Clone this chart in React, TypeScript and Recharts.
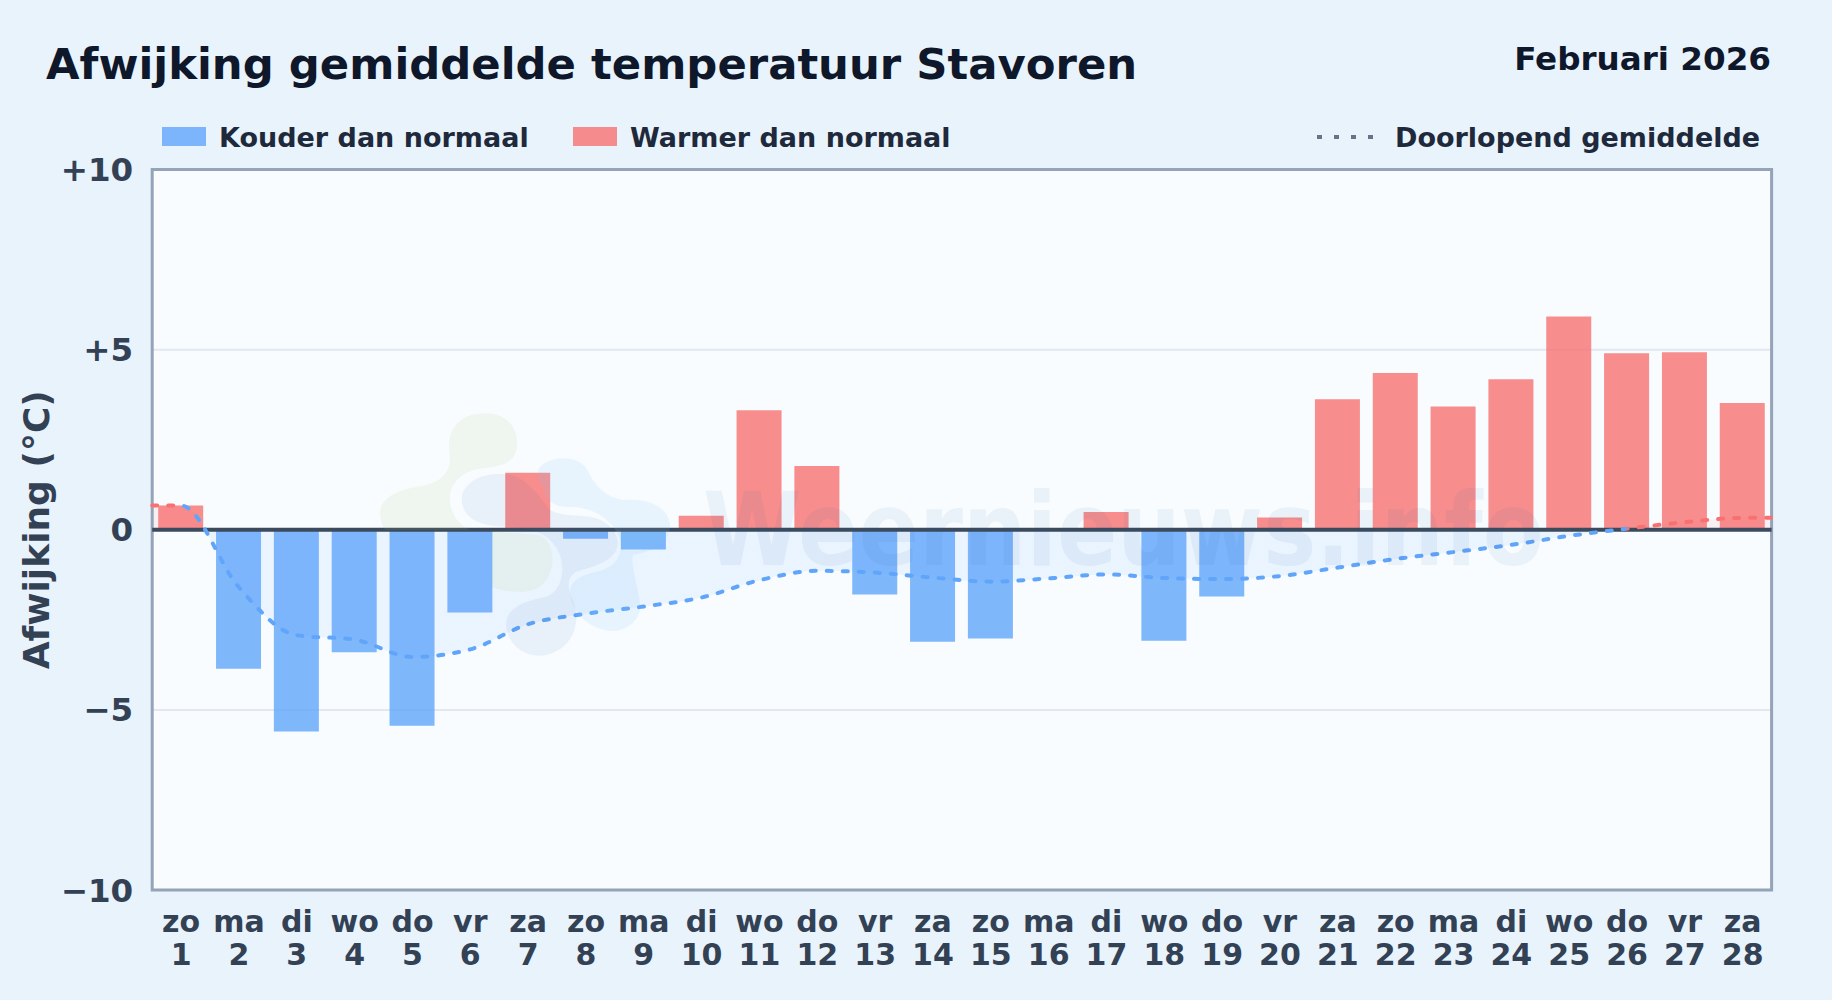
import { Area, Bar, CartesianGrid, Cell, ComposedChart, Line, ReferenceArea, ReferenceLine, XAxis, YAxis } from "recharts";

const days = [1, 2, 3, 4, 5, 6, 7, 8, 9, 10, 11, 12, 13, 14, 15, 16, 17, 18, 19, 20, 21, 22, 23, 24, 25, 26, 27, 28];
const weekdays = ["zo", "ma", "di", "wo", "do", "vr", "za", "zo", "ma", "di", "wo", "do", "vr", "za", "zo", "ma", "di", "wo", "do", "vr", "za", "zo", "ma", "di", "wo", "do", "vr", "za"];
const deviation = [0.67, -3.86, -5.6, -3.4, -5.44, -2.3, 1.58, -0.25, -0.55, 0.39, 3.32, 1.77, -1.8, -3.11, -3.02, 0, 0.49, -3.08, -1.85, 0.34, 3.62, 4.35, 3.42, 4.18, 5.92, 4.9, 4.93, 3.52];
const runningMean = [0.67, -1.6, -2.93, -3.05, -3.53, -3.32, -2.62, -2.33, -2.13, -1.88, -1.4, -1.14, -1.19, -1.33, -1.44, -1.35, -1.24, -1.34, -1.37, -1.285, -1.05, -0.81, -0.62, -0.42, -0.17, 0.03, 0.21, 0.33];
const yTicks = [-10, -5, 0, 5, 10];
const yTickLabels: Record<number, string> = { [-10]: "−10", [-5]: "−5", 0: "0", 5: "+5", 10: "+10" };

const W = 1832;
const H = 1000;
const FONT = "'DejaVu Sans', sans-serif";
const BLUE = "#60a5fa";
const RED = "#f87171";
const TICK = "#334155";

const barRows = days.map((day, i) => ({ day, dev: deviation[i] }));
// the line runs on to both edges of the plot, so it gets two extra rows and its own hidden axis
const lineRows = [
  { day: 0.5, running: runningMean[0] },
  ...days.map((day, i) => ({ day, running: runningMean[i] })),
  { day: 28.5, running: runningMean[27] },
];

function DayTick({ x, y, payload }: any) {
  const i = days.indexOf(payload.value);
  return (
    <text x={x} textAnchor="middle" fontFamily={FONT} fontWeight={700} fontSize={30} fill={TICK}>
      <tspan x={x} y={y + 34}>{weekdays[i]}</tspan>
      <tspan x={x} y={y + 67}>{days[i]}</tspan>
    </text>
  );
}

function Watermark() {
  return (
    <svg width={W} height={H} style={{ position: "absolute", left: 0, top: 0, pointerEvents: "none" }}>
      <g transform="translate(360 395) scale(0.3333)">
        <path fill="#a3c96a" fillOpacity={0.1} d="M60,350 C65,300 130,280 190,272 C240,262 270,235 270,190 C258,120 280,60 370,55 C450,52 480,110 470,165 C460,205 420,215 370,220 C320,225 280,250 270,300 C268,350 290,385 330,405 L75,405 C65,390 60,370 60,350 Z" />
        <path fill="#a3c96a" fillOpacity={0.1} d="M395,410 L540,420 C590,445 590,540 540,575 C500,600 430,590 395,575 Z" />
        <path fill="#2f6fb0" fillOpacity={0.08} d="M305,310 C310,255 380,232 435,238 C500,240 540,310 570,345 C610,365 650,360 690,365 C750,375 780,420 772,455 C760,500 700,515 650,530 C620,545 620,580 640,620 C665,680 640,770 545,782 C470,785 430,720 440,675 C450,630 510,615 560,605 C610,585 620,510 590,460 C560,410 510,400 440,395 C360,395 305,370 305,310 Z" />
        <path fill="#7cc4fa" fillOpacity={0.14} d="M535,225 C550,190 640,170 680,220 C700,265 730,305 790,315 C860,310 920,330 930,385 C935,440 880,470 820,480 C810,500 830,560 840,620 C850,680 790,712 750,708 C680,700 640,650 630,600 C625,560 660,540 710,530 C760,520 800,480 775,420 C750,370 700,340 640,335 C590,340 560,320 555,290 C545,265 530,250 535,225 Z" />
      </g>
      <text x={703} y={565} fontFamily={FONT} fontWeight={700} fontSize={102} textLength={841} lengthAdjust="spacingAndGlyphs" fill="#2563a8" fillOpacity={0.07}>
        Weernieuws.info
      </text>
    </svg>
  );
}

function Heading() {
  const label = { position: "absolute", fontFamily: FONT, fontWeight: 700, whiteSpace: "nowrap", lineHeight: 1 } as const;
  const swatch = { position: "absolute", top: 127, width: 44, height: 19 } as const;
  return (
    <>
      <div style={{ ...label, left: 46, top: 43, fontSize: 43.35, color: "#0f172a" }}>Afwijking gemiddelde temperatuur Stavoren</div>
      <div style={{ ...label, right: 61, top: 43, fontSize: 32.6, color: "#0f172a" }}>Februari 2026</div>
      <div style={{ ...swatch, left: 162, background: BLUE, opacity: 0.8 }} />
      <div style={{ ...label, left: 219, top: 123.5, fontSize: 27, color: "#1e293b" }}>Kouder dan normaal</div>
      <div style={{ ...swatch, left: 573, background: RED, opacity: 0.8 }} />
      <div style={{ ...label, left: 630, top: 123.5, fontSize: 27, color: "#1e293b" }}>Warmer dan normaal</div>
      <svg width={60} height={10} style={{ position: "absolute", left: 1316, top: 132 }}>
        <line x1={1} y1={5} x2={60} y2={5} stroke="#64748b" strokeWidth={4} strokeDasharray="5 12" />
      </svg>
      <div style={{ ...label, left: 1395, top: 123.5, fontSize: 27, color: "#1e293b" }}>Doorlopend gemiddelde</div>
    </>
  );
}

export default function App() {
  return (
    <div style={{ position: "absolute", left: 0, top: 0, width: W, height: H, background: "#e9f3fc", overflow: "hidden" }}>
      <Heading />
      <ComposedChart width={W} height={H} data={barRows} margin={{ top: 169.5, right: 60.4, bottom: 0, left: 0 }}>
        <defs>
          <linearGradient id="lineColor" gradientUnits="userSpaceOnUse" x1="152.2" y1="0" x2="1771.6" y2="0">
            <stop offset="1.786%" stopColor={RED} />
            <stop offset="1.786%" stopColor={BLUE} />
            <stop offset="91.07%" stopColor={BLUE} />
            <stop offset="91.07%" stopColor={RED} />
          </linearGradient>
          <linearGradient id="fillColor" gradientUnits="userSpaceOnUse" x1="0" y1="169.5" x2="0" y2="890">
            <stop offset="50%" stopColor={RED} stopOpacity={0.15} />
            <stop offset="50%" stopColor={BLUE} stopOpacity={0.15} />
          </linearGradient>
        </defs>
        <CartesianGrid vertical={false} stroke="#e2e8f0" strokeWidth={2} fill="#f8fcff" fillOpacity={1} />
        <XAxis dataKey="day" type="category" interval={0} height={110} tick={<DayTick />} tickLine={false} axisLine={false} />
        <XAxis xAxisId="edge" dataKey="day" type="number" domain={[0.5, 28.5]} hide />
        <YAxis
          domain={[-10, 10]}
          ticks={yTicks}
          width={152.2}
          tickFormatter={(v: number) => yTickLabels[v]}
          tick={{ fill: TICK, fontSize: 32.5, fontWeight: 700, fontFamily: FONT }}
          tickLine={false}
          axisLine={false}
          tickMargin={13}
          label={{ value: "Afwijking (°C)", angle: -90, position: "insideLeft", offset: 36, style: { fill: TICK, fontSize: 36, fontWeight: 700, fontFamily: FONT, textAnchor: "middle" } }}
        />
        <Area xAxisId="edge" data={lineRows} dataKey="running" type="monotone" stroke="none" fill="url(#fillColor)" isAnimationActive={false} activeDot={false} />
        <Bar dataKey="dev" barSize={45} isAnimationActive={false}>
          {barRows.map((r, i) => (
            <Cell key={i} fill={r.dev < 0 ? BLUE : RED} fillOpacity={0.8} />
          ))}
        </Bar>
        <ReferenceLine y={0} stroke="#3b4a5c" strokeWidth={4} />
        <ReferenceArea xAxisId="edge" x1={0.5} x2={28.5} y1={-10} y2={10} fill="none" stroke="#94a3b8" strokeWidth={3} />
        <Line xAxisId="edge" data={lineRows} dataKey="running" type="monotone" stroke="url(#lineColor)" strokeWidth={4} strokeDasharray="5 11" strokeLinecap="round" dot={false} activeDot={false} isAnimationActive={false} />
      </ComposedChart>
      <Watermark />
    </div>
  );
}
